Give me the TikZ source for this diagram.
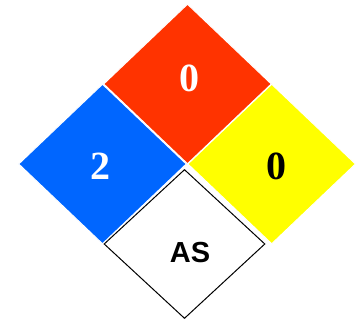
\documentclass[tikz,border=0pt]{standalone}
\usepackage{fontspec}
\setmainfont{Liberation Serif}
\setsansfont{Liberation Sans}
\usetikzlibrary{shapes.geometric}

\definecolor{firered}{HTML}{FF3300}
\definecolor{healthblue}{HTML}{0066FF}
\definecolor{reactyellow}{HTML}{FFFF00}

\begin{document}
\begin{tikzpicture}[
  x=1pt,
  y=-1pt,
  hazard/.style={
    diamond,
    draw=white,
    line width=1pt,
    inner sep=0pt,
    minimum width=168pt,
    minimum height=160pt
  },
  digit/.style={font=\bfseries\fontsize{40}{40}\selectfont},
  special/.style={font=\sffamily\bfseries\fontsize{29}{29}\selectfont}
]

% Canvas
\path[use as bounding box] (0,0) rectangle (357,320);

% Quarters of the diamond
\node[hazard, fill=firered] (fire) at (187.5,84) {};
\node[hazard, fill=healthblue] (health) at (102.5,164) {};
\node[hazard, fill=reactyellow] (react) at (271.7,164) {};
\node[hazard, fill=white, draw=black, minimum width=161pt,
  minimum height=149pt] (other) at (184.5,244) {};

% Ratings
\node[digit, text=white] (firenum) at (189,78) {0};
\node[digit, text=white] (healthnum) at (100,166) {2};
\node[digit, text=black] (reactnum) at (276,166) {0};
\node[special] (othertext) at (190,253) {AS};

\end{tikzpicture}
\end{document}
